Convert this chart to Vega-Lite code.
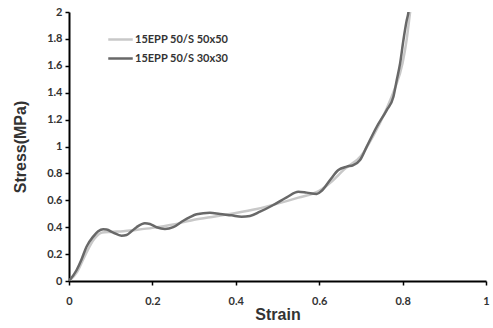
{
  "$schema": "https://vega.github.io/schema/vega-lite/v6.json",
  "width": 417,
  "height": 269,
  "autosize": {"type": "none"},
  "padding": {"left": 69, "top": 12, "right": 7, "bottom": 47},
  "background": "white",
  "config": {"view": {"stroke": null}},
  "data": {"values": [
    {"series": "15EPP 50/S 50x50", "strain": 0, "stress": 0},
    {"series": "15EPP 50/S 50x50", "strain": 0.02, "stress": 0.07},
    {"series": "15EPP 50/S 50x50", "strain": 0.04, "stress": 0.2},
    {"series": "15EPP 50/S 50x50", "strain": 0.06, "stress": 0.31},
    {"series": "15EPP 50/S 50x50", "strain": 0.08, "stress": 0.36},
    {"series": "15EPP 50/S 50x50", "strain": 0.1, "stress": 0.365},
    {"series": "15EPP 50/S 50x50", "strain": 0.13, "stress": 0.37},
    {"series": "15EPP 50/S 50x50", "strain": 0.16, "stress": 0.38},
    {"series": "15EPP 50/S 50x50", "strain": 0.2, "stress": 0.395},
    {"series": "15EPP 50/S 50x50", "strain": 0.25, "stress": 0.42},
    {"series": "15EPP 50/S 50x50", "strain": 0.3, "stress": 0.455},
    {"series": "15EPP 50/S 50x50", "strain": 0.35, "stress": 0.48},
    {"series": "15EPP 50/S 50x50", "strain": 0.4, "stress": 0.505},
    {"series": "15EPP 50/S 50x50", "strain": 0.45, "stress": 0.535},
    {"series": "15EPP 50/S 50x50", "strain": 0.5, "stress": 0.575},
    {"series": "15EPP 50/S 50x50", "strain": 0.55, "stress": 0.62},
    {"series": "15EPP 50/S 50x50", "strain": 0.6, "stress": 0.67},
    {"series": "15EPP 50/S 50x50", "strain": 0.63, "stress": 0.74},
    {"series": "15EPP 50/S 50x50", "strain": 0.66, "stress": 0.83},
    {"series": "15EPP 50/S 50x50", "strain": 0.7, "stress": 0.93},
    {"series": "15EPP 50/S 50x50", "strain": 0.73, "stress": 1.08},
    {"series": "15EPP 50/S 50x50", "strain": 0.76, "stress": 1.27},
    {"series": "15EPP 50/S 50x50", "strain": 0.78, "stress": 1.42},
    {"series": "15EPP 50/S 50x50", "strain": 0.8, "stress": 1.62},
    {"series": "15EPP 50/S 50x50", "strain": 0.81, "stress": 1.8},
    {"series": "15EPP 50/S 50x50", "strain": 0.818, "stress": 2.0},
    {"series": "15EPP 50/S 50x50", "strain": 0.822, "stress": 2.1},
    {"series": "15EPP 50/S 30x30", "strain": 0, "stress": 0},
    {"series": "15EPP 50/S 30x30", "strain": 0.018, "stress": 0.08},
    {"series": "15EPP 50/S 30x30", "strain": 0.03, "stress": 0.16},
    {"series": "15EPP 50/S 30x30", "strain": 0.042, "stress": 0.255},
    {"series": "15EPP 50/S 30x30", "strain": 0.058, "stress": 0.33},
    {"series": "15EPP 50/S 30x30", "strain": 0.07, "stress": 0.37},
    {"series": "15EPP 50/S 30x30", "strain": 0.082, "stress": 0.385},
    {"series": "15EPP 50/S 30x30", "strain": 0.09, "stress": 0.383},
    {"series": "15EPP 50/S 30x30", "strain": 0.106, "stress": 0.36},
    {"series": "15EPP 50/S 30x30", "strain": 0.126, "stress": 0.337},
    {"series": "15EPP 50/S 30x30", "strain": 0.138, "stress": 0.342},
    {"series": "15EPP 50/S 30x30", "strain": 0.15, "stress": 0.37},
    {"series": "15EPP 50/S 30x30", "strain": 0.162, "stress": 0.4},
    {"series": "15EPP 50/S 30x30", "strain": 0.182, "stress": 0.43},
    {"series": "15EPP 50/S 30x30", "strain": 0.194, "stress": 0.424},
    {"series": "15EPP 50/S 30x30", "strain": 0.21, "stress": 0.4},
    {"series": "15EPP 50/S 30x30", "strain": 0.23, "stress": 0.387},
    {"series": "15EPP 50/S 30x30", "strain": 0.25, "stress": 0.4},
    {"series": "15EPP 50/S 30x30", "strain": 0.274, "stress": 0.448},
    {"series": "15EPP 50/S 30x30", "strain": 0.29, "stress": 0.475},
    {"series": "15EPP 50/S 30x30", "strain": 0.306, "stress": 0.496},
    {"series": "15EPP 50/S 30x30", "strain": 0.338, "stress": 0.508},
    {"series": "15EPP 50/S 30x30", "strain": 0.362, "stress": 0.498},
    {"series": "15EPP 50/S 30x30", "strain": 0.39, "stress": 0.488},
    {"series": "15EPP 50/S 30x30", "strain": 0.414, "stress": 0.478},
    {"series": "15EPP 50/S 30x30", "strain": 0.434, "stress": 0.483},
    {"series": "15EPP 50/S 30x30", "strain": 0.458, "stress": 0.515},
    {"series": "15EPP 50/S 30x30", "strain": 0.49, "stress": 0.565},
    {"series": "15EPP 50/S 30x30", "strain": 0.522, "stress": 0.622},
    {"series": "15EPP 50/S 30x30", "strain": 0.55, "stress": 0.664},
    {"series": "15EPP 50/S 30x30", "strain": 0.57, "stress": 0.657},
    {"series": "15EPP 50/S 30x30", "strain": 0.594, "stress": 0.647},
    {"series": "15EPP 50/S 30x30", "strain": 0.606, "stress": 0.671},
    {"series": "15EPP 50/S 30x30", "strain": 0.626, "stress": 0.751},
    {"series": "15EPP 50/S 30x30", "strain": 0.646, "stress": 0.825},
    {"series": "15EPP 50/S 30x30", "strain": 0.666, "stress": 0.85},
    {"series": "15EPP 50/S 30x30", "strain": 0.682, "stress": 0.862},
    {"series": "15EPP 50/S 30x30", "strain": 0.698, "stress": 0.9},
    {"series": "15EPP 50/S 30x30", "strain": 0.714, "stress": 0.999},
    {"series": "15EPP 50/S 30x30", "strain": 0.738, "stress": 1.147},
    {"series": "15EPP 50/S 30x30", "strain": 0.762, "stress": 1.271},
    {"series": "15EPP 50/S 30x30", "strain": 0.778, "stress": 1.37},
    {"series": "15EPP 50/S 30x30", "strain": 0.786, "stress": 1.494},
    {"series": "15EPP 50/S 30x30", "strain": 0.794, "stress": 1.618},
    {"series": "15EPP 50/S 30x30", "strain": 0.802, "stress": 1.792},
    {"series": "15EPP 50/S 30x30", "strain": 0.81, "stress": 1.94},
    {"series": "15EPP 50/S 30x30", "strain": 0.814, "stress": 2.0},
    {"series": "15EPP 50/S 30x30", "strain": 0.817, "stress": 2.1}
  ]},
  "mark": {"type": "line", "strokeWidth": 2.5, "clip": true, "interpolate": "monotone"},
  "encoding": {
    "x": {
      "field": "strain", "type": "quantitative",
      "scale": {"domain": [0, 1], "nice": false},
      "axis": {
        "title": "Strain", "values": [0, 0.2, 0.4, 0.6, 0.8, 1], "format": "~g",
        "grid": false, "domainColor": "#000", "domainWidth": 2,
        "tickColor": "#000", "tickWidth": 1.5, "tickSize": 4,
        "labelFont": "Lato", "labelFontWeight": "bold", "labelFontSize": 11, "labelColor": "#333",
        "labelPadding": 10, "labelFlush": false,
        "titleFont": "Liberation Sans", "titleFontWeight": "bold", "titleFontSize": 16, "titleColor": "#333",
        "titlePadding": 0
      }
    },
    "y": {
      "field": "stress", "type": "quantitative",
      "scale": {"domain": [0, 2], "nice": false},
      "axis": {
        "title": "Stress(MPa)", "values": [0, 0.2, 0.4, 0.6, 0.8, 1, 1.2, 1.4, 1.6, 1.8, 2], "format": "~g",
        "grid": false, "domainColor": "#000", "domainWidth": 2,
        "tickColor": "#000", "tickWidth": 1.5, "tickSize": 4,
        "labelFont": "Lato", "labelFontWeight": "bold", "labelFontSize": 11, "labelColor": "#333",
        "labelPadding": 3, "labelFlush": false,
        "titleFont": "Liberation Sans", "titleFontWeight": "bold", "titleFontSize": 16, "titleColor": "#333",
        "titlePadding": 18
      }
    },
    "color": {
      "field": "series", "type": "nominal",
      "scale": {"domain": ["15EPP 50/S 50x50", "15EPP 50/S 30x30"], "range": ["#c8c8c8", "#686868"]},
      "legend": {
        "title": null, "orient": "none", "legendX": 38, "legendY": 14,
        "symbolType": "stroke", "symbolStrokeWidth": 2.5, "symbolSize": 600,
        "labelFont": "Lato", "labelFontWeight": "bold", "labelFontSize": 11, "labelColor": "#333",
        "labelOffset": 1, "rowPadding": -3.5
      }
    }
  }
}
